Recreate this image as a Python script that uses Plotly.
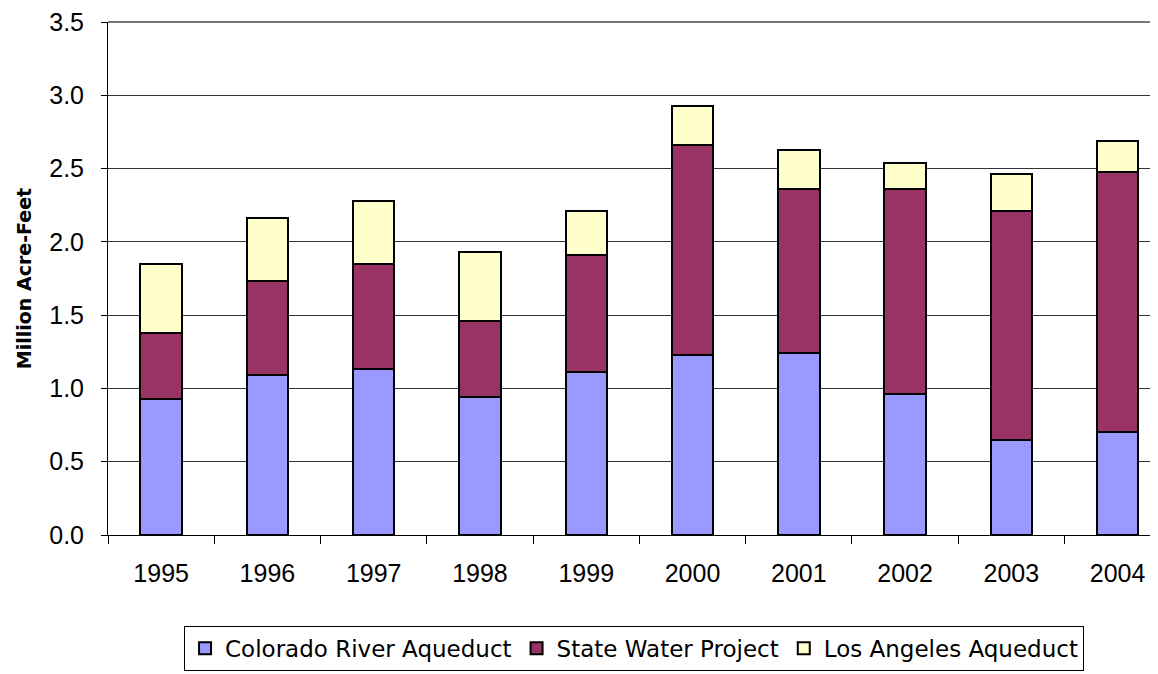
import plotly.graph_objects as go

years = ["1995", "1996", "1997", "1998", "1999", "2000", "2001", "2002", "2003", "2004"]

colorado = [0.93, 1.09, 1.13, 0.94, 1.11, 1.23, 1.24, 0.96, 0.65, 0.70]
state_water = [0.45, 0.64, 0.72, 0.52, 0.80, 1.43, 1.12, 1.40, 1.56, 1.78]
los_angeles = [0.47, 0.43, 0.43, 0.47, 0.30, 0.27, 0.27, 0.18, 0.25, 0.21]

series = [
    ("Colorado River Aqueduct", colorado, "#9999ff"),
    ("State Water Project", state_water, "#993366"),
    ("Los Angeles Aqueduct", los_angeles, "#ffffcc"),
]

fig = go.Figure()
for name, vals, col in series:
    fig.add_trace(go.Bar(
        x=years, y=vals, name=name,
        marker=dict(color=col, line=dict(color="black", width=2)),
    ))

# page body has an 8px margin, so the figure is offset by that
fig.update_layout(
    barmode="stack",
    bargap=0.61,
    width=1150, height=666,
    margin=dict(l=100, r=0, t=12, b=139),
    paper_bgcolor="white",
    plot_bgcolor="white",
    font=dict(family="Liberation Sans, Arial, sans-serif", size=25, color="black"),
    showlegend=True,
    legend=dict(
        orientation="h",
        x=0.501, xanchor="center",
        y=-0.221, yanchor="middle",
        bordercolor="black", borderwidth=1,
        font=dict(family="DejaVu Sans", size=23),
        traceorder="normal",
        itemwidth=30,
    ),
)

fig.update_xaxes(
    type="category",
    range=[-0.5, 9.38],
    showline=True, linecolor="black", linewidth=1,
    ticks="outside", ticklen=8, tickcolor="black",
    tickson="boundaries",
    ticklabelstandoff=16,
)
fig.update_yaxes(
    range=[0, 3.5001], tickvals=[0, 0.5, 1, 1.5, 2, 2.5, 3, 3.5], tickformat=".1f",
    showgrid=True, gridcolor="#333333", gridwidth=1,
    showline=True, linecolor="black", linewidth=1,
    ticks="outside", ticklen=6, tickcolor="black",
    ticklabelstandoff=12,
    ticklabeloverflow="allow",
    title=dict(text="<b>Million Acre-Feet</b>",
               font=dict(family="DejaVu Sans", size=19), standoff=12),
    zeroline=False,
)

# top border of plot area
fig.add_shape(type="line", xref="paper", yref="paper", x0=0, x1=1, y0=1, y1=1,
              line=dict(color="#777777", width=2))

fig.write_html("out.html")
